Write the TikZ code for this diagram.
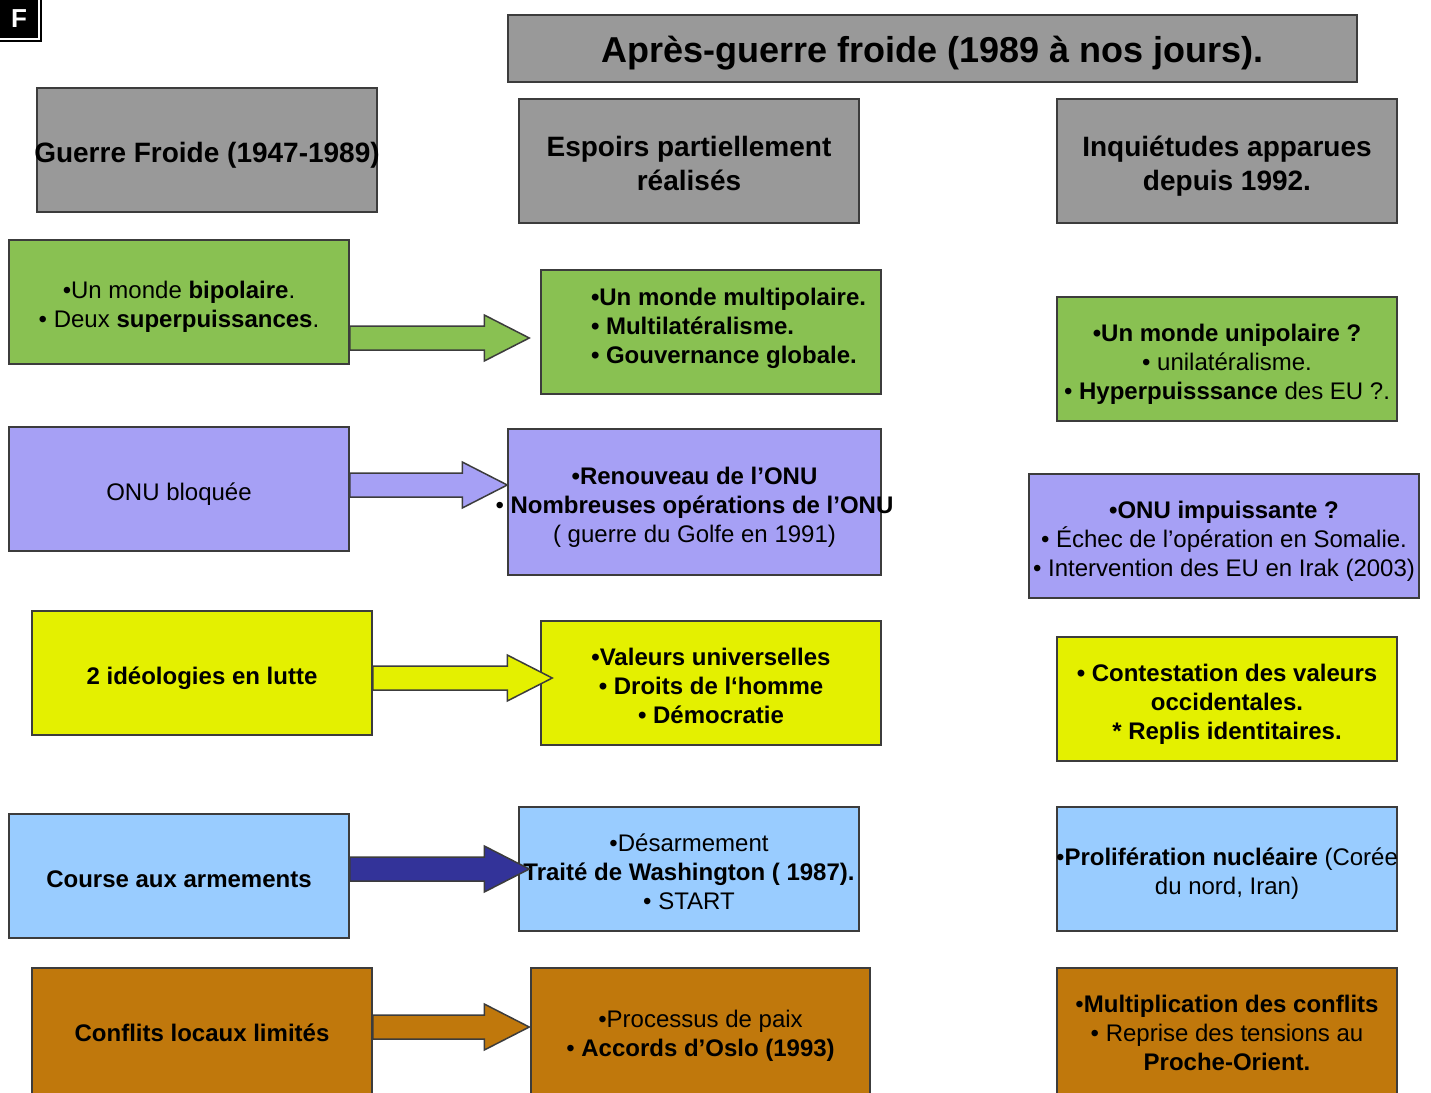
\documentclass[tikz,border=0pt]{standalone}
\usepackage{fontspec}
\setmainfont{Liberation Sans}
\usetikzlibrary{calc}

\definecolor{headgray}{RGB}{153,153,153}
\definecolor{boxgreen}{RGB}{137,193,82}
\definecolor{boxlilac}{RGB}{166,160,245}
\definecolor{boxyellow}{RGB}{228,240,0}
\definecolor{boxblue}{RGB}{153,204,255}
\definecolor{boxbrown}{RGB}{192,120,12}
\definecolor{arrowblue}{RGB}{51,51,153}
\definecolor{edgegray}{RGB}{60,60,60}

% a line that may stick out of its box on both sides
\newcommand{\fitline}[1]{\makebox[320pt]{#1}}

% fat arrow from #1 to the tip #2, filled with #3
\newcommand{\blockarrow}[3]{%
  \draw[arrowline, fill=#3] ($(#1)+(0,-12)$) -- ($(#2)+(-45,-12)$) -- ($(#2)+(-45,-23)$) -- (#2)
    -- ($(#2)+(-45,23)$) -- ($(#2)+(-45,12)$) -- ($(#1)+(0,12)$) -- cycle;%
}

\tikzset{
  cardbase/.style={draw=edgegray, line width=1.5pt, inner sep=0pt, minimum width=340pt,
    minimum height=124pt, align=center, font=\fontsize{24}{29}\selectfont},
  % boxes of the body, text set lower as in a slide
  card/.style={cardbase, text height=28.5pt, text depth=6pt},
  twolines/.style={text height=57.5pt},
  threelines/.style={text height=86.5pt},
  % bottom row, cut by the page edge
  lastcard/.style={cardbase, minimum height=128pt, text height=25.5pt, text depth=6pt},
  lasttwo/.style={text height=54.5pt},
  lastthree/.style={text height=83.5pt},
  boldtext/.style={font=\fontsize{24}{29}\selectfont\bfseries},
  headcard/.style={cardbase, fill=headgray, font=\fontsize{28}{34}\selectfont\bfseries,
    text height=33pt, text depth=8.5pt},
  headtwo/.style={text height=67pt},
  arrowline/.style={draw=edgegray, line width=1.5pt},
}

\begin{document}
\begin{tikzpicture}[x=1pt, y=-1pt]

    % page frame
    \useasboundingbox (0,0) rectangle (1431,1092);
    \clip (0,0) rectangle (1431,1092);
    \fill[white] (0,0) rectangle (1431,1092);

    % "F" tag at the top left
    \node[fill=black, text=white, minimum size=38pt, inner sep=0pt,
      font=\fontsize{26}{30}\selectfont\bfseries] (ftag) at (19,19) {F};
    \draw[line width=1.5pt] ($(ftag.north east)+(3,0)$) -- ($(ftag.south east)+(3,3)$) -- ($(ftag.south west)+(0,3)$);

    % title and column heads
    \node[cardbase, fill=headgray, minimum width=849pt, minimum height=67pt, text height=39pt, text depth=10.3pt,
      font=\fontsize{36}{42}\selectfont\bfseries] (title) at (932.5,48.5) {Après-guerre froide (1989 à nos jours).};
    \node[headcard] (hdcold) at (207,150) {\fitline{Guerre Froide (1947-1989)}};
    \node[headcard, headtwo] (hdhope) at (689,161) {Espoirs partiellement\\réalisés};
    \node[headcard, headtwo] (hdfear) at (1227,161) {Inquiétudes apparues\\depuis 1992.};

    % row 1 : poles
    \node[card, twolines, fill=boxgreen] (coldA) at (179,302) {•Un monde \textbf{bipolaire}.\\• Deux \textbf{superpuissances}.};
    \node[card, boldtext, fill=boxgreen, text depth=81pt] (hopeA) at (711,332)
      {\hspace*{36pt}\parbox[t]{276pt}{•Un monde multipolaire.\\• Multilatéralisme.\\• Gouvernance globale.}};
    \node[card, threelines, fill=boxgreen] (fearA) at (1227,359) {\textbf{•Un monde unipolaire ?}\\• unilatéralisme.\\• \textbf{Hyperpuisssance} des EU ?.};

    % row 2 : ONU
    \node[card, fill=boxlilac] (coldB) at (179,489) {ONU bloquée};
    \node[card, threelines, fill=boxlilac, minimum width=373pt, minimum height=146pt] (hopeB) at (694.5,502)
      {\textbf{•Renouveau de l’ONU}\\\fitline{• \textbf{Nombreuses opérations de l’ONU}}\\( guerre du Golfe en 1991)};
    \node[card, threelines, fill=boxlilac, minimum width=390pt] (fearB) at (1224,536)
      {\textbf{•ONU impuissante ?}\\• Échec de l’opération en Somalie.\\• Intervention des EU en Irak (2003)};

    % row 3 : ideas
    \node[card, boldtext, fill=boxyellow] (coldC) at (202,673) {2 idéologies en lutte};
    \node[card, threelines, boldtext, fill=boxyellow] (hopeC) at (711,683) {•Valeurs universelles\\• Droits de l‘homme\\• Démocratie};
    \node[card, threelines, boldtext, fill=boxyellow] (fearC) at (1227,699) {• Contestation des valeurs\\occidentales.\\* Replis identitaires.};

    % row 4 : weapons
    \node[card, boldtext, fill=boxblue] (coldD) at (179,876) {Course aux armements};
    \node[card, threelines, fill=boxblue] (hopeD) at (689,869) {•Désarmement\\\fitline{\textbf{Traité de Washington ( 1987).}}\\• START};
    \node[card, twolines, fill=boxblue] (fearD) at (1227,869) {\fitline{•\textbf{Prolifération nucléaire} (Corée}\\du nord, Iran)};

    % row 5 : conflicts
    \node[lastcard, boldtext, fill=boxbrown] (coldE) at (202,1032) {Conflits locaux limités};
    \node[lastcard, lasttwo, fill=boxbrown, minimum width=339pt] (hopeE) at (700.5,1032)
      {•Processus de paix\\• \textbf{Accords d’Oslo (1993)}};
    \node[lastcard, lastthree, fill=boxbrown] (fearE) at (1227,1032)
      {•\textbf{Multiplication des conflits}\\• Reprise des tensions au\\\textbf{Proche-Orient.}};

    % arrows from the cold war column to the hopes column
    \coordinate (arrA) at (coldA.east |- 0,338);
    \coordinate (tipA) at ($(hopeA.west |- arrA)+(-11,0)$);
    \blockarrow{arrA}{tipA}{boxgreen}

    \coordinate (arrB) at (coldB.east |- 0,485);
    \coordinate (tipB) at (hopeB.west |- arrB);
    \blockarrow{arrB}{tipB}{boxlilac}

    \coordinate (arrC) at (coldC.east |- 0,678);
    \coordinate (tipC) at ($(hopeC.west |- arrC)+(12,0)$);
    \blockarrow{arrC}{tipC}{boxyellow}

    \coordinate (arrD) at (coldD.east |- 0,869);
    \coordinate (tipD) at ($(hopeD.west |- arrD)+(11,0)$);
    \blockarrow{arrD}{tipD}{arrowblue}

    \coordinate (arrE) at (coldE.east |- 0,1027);
    \coordinate (tipE) at ($(hopeE.west |- arrE)+(-1,0)$);
    \blockarrow{arrE}{tipE}{boxbrown}

\end{tikzpicture}
\end{document}
